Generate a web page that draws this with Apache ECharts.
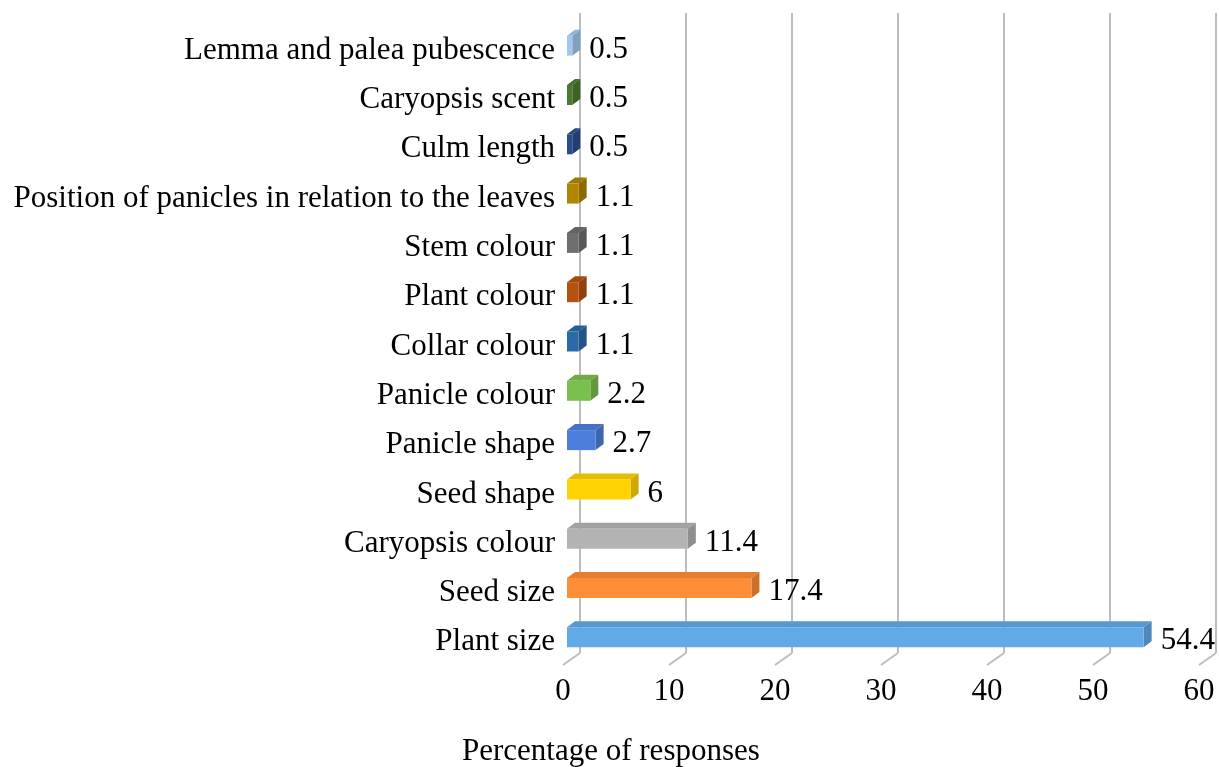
<!DOCTYPE html>
<html>
<head>
<meta charset="utf-8">
<script src="https://cdn.jsdelivr.net/npm/echarts@6/dist/echarts.min.js"></script>
<style>
  html, body { margin: 0; padding: 0; background: #fff; }
  #chart { width: 1219px; height: 767px; }
</style>
</head>
<body>
<div id="chart"></div>
<script>
// categories, bottom to top
const categories = [
  'Plant size',
  'Seed size',
  'Caryopsis colour',
  'Seed shape',
  'Panicle shape',
  'Panicle colour',
  'Collar colour',
  'Plant colour',
  'Stem colour',
  'Position of panicles in relation to the leaves',
  'Culm length',
  'Caryopsis scent',
  'Lemma and palea pubescence'
]
const percentages = [54.4, 17.4, 11.4, 6, 2.7, 2.2, 1.1, 1.1, 1.1, 1.1, 0.5, 0.5, 0.5]
const xTicks = [0, 10, 20, 30, 40, 50, 60]

// front face colour of every bar
const barColors = [
  '#62a9e8', '#ff8c37', '#b3b3b3', '#ffd200', '#4b7fdb', '#7bbf4f', '#2a6aa6',
  '#b5520f', '#6e6e6e', '#b08500', '#2b4c8c', '#4b7b30', '#a0c8ee'
]

const FONT = '"Liberation Serif", "Times New Roman", serif'
const FS = 31
const DX = 8 // depth of a bar
const DY = 6

// darken a hex colour
function shade (hex, f) {
  const n = parseInt(hex.slice(1), 16)
  const r = Math.round(((n >> 16) & 255) * f)
  const g = Math.round(((n >> 8) & 255) * f)
  const b = Math.round((n & 255) * f)
  return 'rgb(' + r + ',' + g + ',' + b + ')'
}

const chart = echarts.init(document.getElementById('chart'))

chart.setOption({
  animation: false,
  backgroundColor: '#fff',
  grid: [
    // back wall
    { left: 580, right: 3, top: 13, bottom: 114 },
    // bar plane
    { left: 567, right: 16, top: 21, bottom: 105 },
    // floor front edge
    { left: 563, right: 20, top: 600, bottom: 102 },
    // category labels, sit a little lower than the bars
    { left: 567, right: 16, top: 26, bottom: 100 }
  ],
  xAxis: [
    {
      gridIndex: 0, type: 'value', min: 0, max: 60, interval: 10,
      axisLabel: { show: false }, axisTick: { show: false }, axisLine: { show: false },
      splitLine: { show: true, lineStyle: { color: '#bdbdbd', width: 2 } }
    },
    {
      gridIndex: 1, type: 'value', min: 0, max: 60, interval: 10, show: false
    },
    {
      gridIndex: 2, type: 'value', min: 0, max: 60, interval: 10,
      axisLine: { show: false }, axisTick: { show: false }, splitLine: { show: false },
      axisLabel: { fontFamily: FONT, fontSize: FS, color: '#000', margin: 11 }
    },
    {
      gridIndex: 3, type: 'value', min: 0, max: 60, interval: 10, show: false
    }
  ],
  yAxis: [
    { gridIndex: 0, type: 'value', min: 0, max: 1, show: false },
    {
      gridIndex: 1, type: 'category', data: categories,
      axisLine: { show: false }, axisTick: { show: false }, splitLine: { show: false },
      axisLabel: { show: false }
    },
    { gridIndex: 2, type: 'value', min: 0, max: 1, show: false },
    {
      gridIndex: 3, type: 'category', data: categories,
      axisLine: { show: false }, axisTick: { show: false }, splitLine: { show: false },
      axisLabel: { fontFamily: FONT, fontSize: FS, color: '#000', margin: 12 }
    }
  ],
  graphic: [
    {
      type: 'text', left: 462, top: 736,
      style: { text: 'Percentage of responses', font: FS + 'px ' + FONT, fill: '#000' }
    }
  ],
  series: [
    {
      // diagonal floor ticks
      type: 'custom',
      xAxisIndex: 2,
      yAxisIndex: 2,
      data: xTicks.map(t => [t, 0]),
      silent: true,
      renderItem (params, api) {
        const p = api.coord([api.value(0), 0])
        return {
          type: 'line',
          shape: { x1: p[0], y1: p[1], x2: p[0] + 17, y2: p[1] - 12 },
          style: { stroke: '#bdbdbd', lineWidth: 2 }
        }
      }
    },
    {
      // 3D bars
      type: 'custom',
      xAxisIndex: 1,
      yAxisIndex: 1,
      data: percentages.map((v, i) => [v, i]),
      encode: { x: 0, y: 1 },
      renderItem (params, api) {
        const v = api.value(0)
        const i = api.value(1)
        const p0 = api.coord([0, i])
        const p1 = api.coord([v, i])
        const h = 20
        const x0 = p0[0]
        const x1 = p1[0]
        const yt = p0[1] - h / 2
        const yb = p0[1] + h / 2
        const c = barColors[i]
        return {
          type: 'group',
          children: [
            {
              type: 'polygon',
              shape: { points: [[x0, yt], [x0 + DX, yt - DY], [x1 + DX, yt - DY], [x1, yt]] },
              style: { fill: shade(c, 0.9) }
            },
            {
              type: 'polygon',
              shape: { points: [[x1, yt], [x1 + DX, yt - DY], [x1 + DX, yb - DY], [x1, yb]] },
              style: { fill: shade(c, 0.8) }
            },
            {
              type: 'rect',
              shape: { x: x0, y: yt, width: x1 - x0, height: h },
              style: { fill: c }
            },
            {
              type: 'text',
              x: x1 + DX + 9,
              y: p0[1] + 4,
              style: {
                text: String(v),
                font: FS + 'px ' + FONT,
                fill: '#000',
                verticalAlign: 'middle',
                align: 'left'
              }
            }
          ]
        }
      }
    }
  ]
})
</script>
</body>
</html>
